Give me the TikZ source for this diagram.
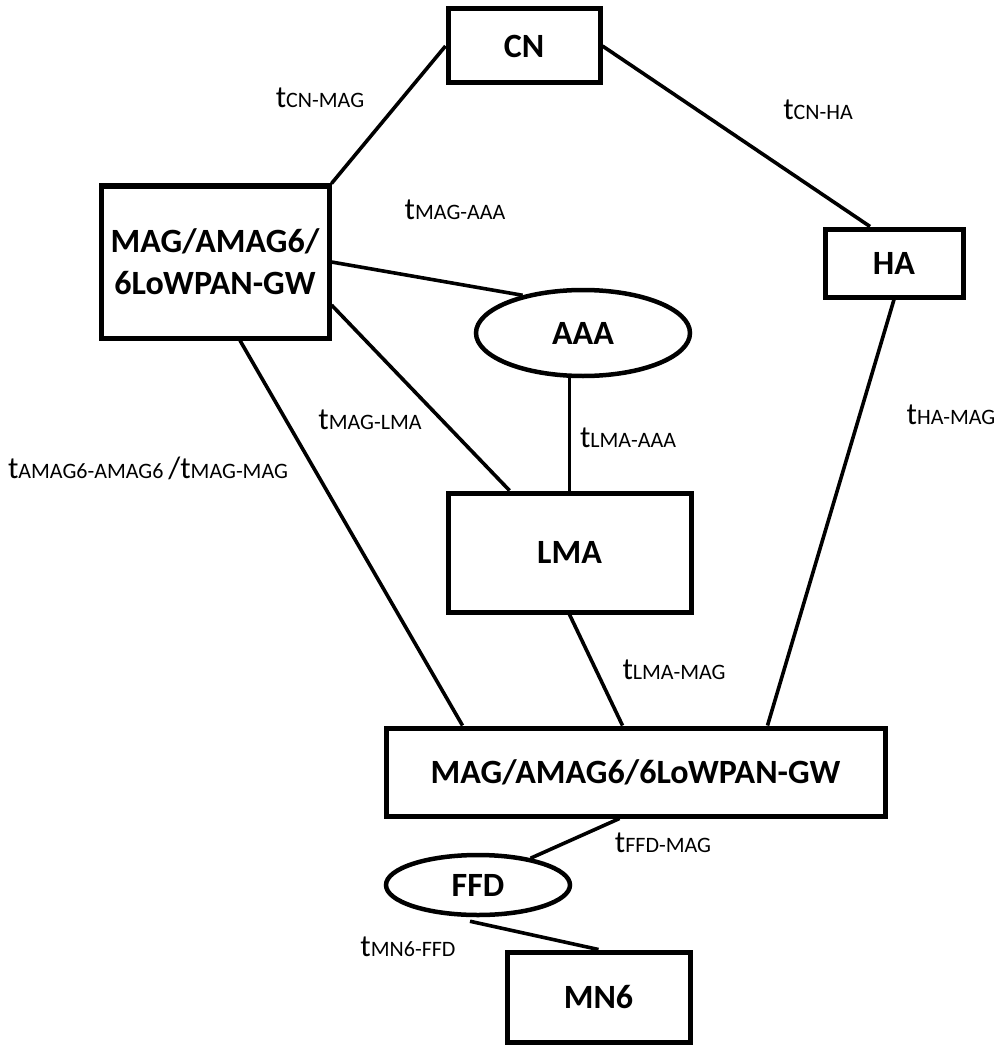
\documentclass[tikz,border=0pt]{standalone}
\usepackage{fontspec}
\setmainfont{Carlito}
\usetikzlibrary{shapes.geometric}
\newcommand\tlab[1]{{\fontsize{31}{34}\selectfont t}{\fontsize{22}{25}\selectfont #1}}
\begin{document}
\begin{tikzpicture}[x=1pt,y=-1pt,
  box/.style={draw,line width=5pt,rectangle,inner sep=0pt,font=\bfseries\fontsize{34}{42}\selectfont,align=center},
  oval/.style={draw,line width=4.5pt,ellipse,inner sep=0pt,font=\bfseries\fontsize{34}{42}\selectfont},
  link/.style={line width=3.6pt},
  lab/.style={inner sep=0pt}]
\useasboundingbox[fill=white] (0,0) rectangle (1002,1051);
\node[box,minimum width=152pt,minimum height=74pt] (cn) at (524,46) {CN};
\node[box,minimum width=228pt,minimum height=152pt] (mag1) at (215,262) {MAG/AMAG6/\\6LoWPAN-GW};
\node[box,minimum width=138pt,minimum height=68pt] (ha) at (894,263) {HA};
\node[oval,minimum width=214pt,minimum height=86pt] (aaa) at (583,333) {AAA};
\node[box,minimum width=243pt,minimum height=119pt] (lma) at (569.5,552.5) {LMA};
\node[box,minimum width=499pt,minimum height=88pt] (bot) at (635.5,772) {MAG/AMAG6/6LoWPAN-GW};
\node[oval,minimum width=184pt,minimum height=60pt] (ffd) at (478,885) {FFD};
\node[box,minimum width=183pt,minimum height=90pt] (mn6) at (598.5,997) {MN6};

\draw[link] (cn.west) -- (mag1.north east);
\draw[link] (cn.east) -- ([xshift=-24pt]ha.north);
\draw[link] (mag1.east) -- (aaa.148);
\draw[link] ([yshift=-43pt]mag1.east) -- ([xshift=-60pt]lma.north);
\draw[link] ([xshift=25pt]mag1.south) -- ([xshift=-173pt]bot.north);
\draw[link,line width=3pt] (lma.north |- aaa.south) -- (lma.north);
\draw[link] (ha.south) -- ([xshift=132pt]bot.north);
\draw[link] (lma.south) -- ([xshift=-13pt]bot.north);
\draw[link] ([xshift=-16pt]bot.south) -- (ffd.27);
\draw[link] ([xshift=-8pt,yshift=-4pt]ffd.south) -- (mn6.north);

\node[lab] (l1) at (320,98) {\tlab{CN-MAG}};
\node[lab] (l2) at (818,110) {\tlab{CN-HA}};
\node[lab] (l3) at (455,210) {\tlab{MAG-AAA}};
\node[lab] (l4) at (370,420) {\tlab{MAG-LMA}};
\node[lab] (l5) at (628,438) {\tlab{LMA-AAA}};
\node[lab] (l6) at (148,468) {\tlab{AMAG6-AMAG6 }{\fontsize{31}{34}\selectfont/}\tlab{MAG-MAG}};
\node[lab] (l7) at (951,415) {\tlab{HA-MAG}};
\node[lab] (l8) at (674,670) {\tlab{LMA-MAG}};
\node[lab] (l9) at (663,843) {\tlab{FFD-MAG}};
\node[lab] (l10) at (408,947) {\tlab{MN6-FFD}};
\end{tikzpicture}
\end{document}
